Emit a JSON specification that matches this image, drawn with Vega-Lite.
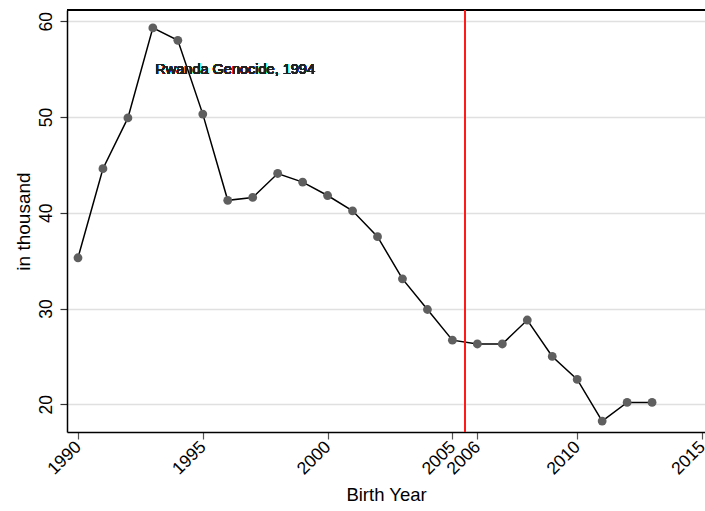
{
  "$schema": "https://vega.github.io/schema/vega-lite/v6.json",
  "autosize": "none",
  "width": 638,
  "height": 422,
  "padding": {"left": 67, "top": 10, "right": 0, "bottom": 79},
  "background": "white",
  "config": {
    "view": {"stroke": null},
    "font": "Liberation Sans",
    "axis": {"labelFont": "Liberation Sans", "titleFont": "Liberation Sans", "labelColor": "#000", "titleColor": "#000", "titleFontWeight": "normal"}
  },
  "data": {"values": [
    {"year": 1990, "value": 35.3},
    {"year": 1991, "value": 44.6},
    {"year": 1992, "value": 49.9},
    {"year": 1993, "value": 59.3},
    {"year": 1994, "value": 58.0},
    {"year": 1995, "value": 50.3},
    {"year": 1996, "value": 41.3},
    {"year": 1997, "value": 41.6},
    {"year": 1998, "value": 44.1},
    {"year": 1999, "value": 43.2},
    {"year": 2000, "value": 41.8},
    {"year": 2001, "value": 40.2},
    {"year": 2002, "value": 37.5},
    {"year": 2003, "value": 33.1},
    {"year": 2004, "value": 29.9},
    {"year": 2005, "value": 26.7},
    {"year": 2006, "value": 26.3},
    {"year": 2007, "value": 26.3},
    {"year": 2008, "value": 28.8},
    {"year": 2009, "value": 25.0},
    {"year": 2010, "value": 22.6},
    {"year": 2011, "value": 18.25},
    {"year": 2012, "value": 20.2},
    {"year": 2013, "value": 20.2}
  ]},
  "layer": [
    {
      "mark": {"type": "rule", "color": "#000", "strokeWidth": 1.5},
      "encoding": {"y": {"datum": 61.17, "scale": {"domain": [17.11, 61.17], "nice": false, "zero": false}}}
    },
    {
      "mark": {"type": "line", "color": "#000", "strokeWidth": 1.5},
      "encoding": {
        "x": {
          "field": "year", "type": "quantitative",
          "scale": {"domain": [1989.56, 2015.12], "nice": false, "zero": false},
          "axis": {
            "values": [1990, 1995, 2000, 2005, 2006, 2010, 2015],
            "format": "d",
            "title": "Birth Year",
            "labelAngle": -45,
            "labelAlign": "right",
            "labelBaseline": "middle",
            "labelFontSize": 17.5,
            "labelPadding": 5,
            "labelOverlap": false,
            "labelFlush": false,
            "labelBound": false,
            "tickSize": 7,
            "tickColor": "#555",
            "tickWidth": 1.2,
            "domainColor": "#000",
            "domainWidth": 1.5,
            "grid": false,
            "titleFontSize": 18.5,
            "titlePadding": 8
          }
        },
        "y": {
          "field": "value", "type": "quantitative",
          "scale": {"domain": [17.11, 61.17], "nice": false, "zero": false},
          "axis": {
            "values": [20, 30, 40, 50, 60],
            "title": "in thousand",
            "labelAngle": -90,
            "labelAlign": "center",
            "labelBaseline": "alphabetic",
            "labelFontSize": 17.5,
            "labelPadding": 9,
            "labelOverlap": false,
            "labelFlush": false,
            "tickSize": 7,
            "tickColor": "#333",
            "tickWidth": 1.2,
            "domainColor": "#000",
            "domainWidth": 1.5,
            "grid": true,
            "gridColor": "#e0e0e0",
            "gridWidth": 1.3,
            "titleFontSize": 19,
            "titlePadding": 4
          }
        }
      }
    },
    {
      "mark": {"type": "point", "filled": true, "color": "#5f5f5f", "size": 78, "opacity": 1},
      "encoding": {
        "x": {"field": "year", "type": "quantitative"},
        "y": {"field": "value", "type": "quantitative"}
      }
    },
    {
      "mark": {"type": "rule", "color": "#ff1a1a", "strokeWidth": 1.5},
      "encoding": {"x": {"datum": 2005.5}}
    },
    {
      "mark": {"type": "text", "text": "Rwanda Genocide, 1994", "align": "left", "baseline": "alphabetic", "fontSize": 14.5, "color": "#222", "font": "Liberation Sans"},
      "encoding": {"x": {"datum": 1993.1}, "y": {"datum": 54.44}}
    }
  ]
}
